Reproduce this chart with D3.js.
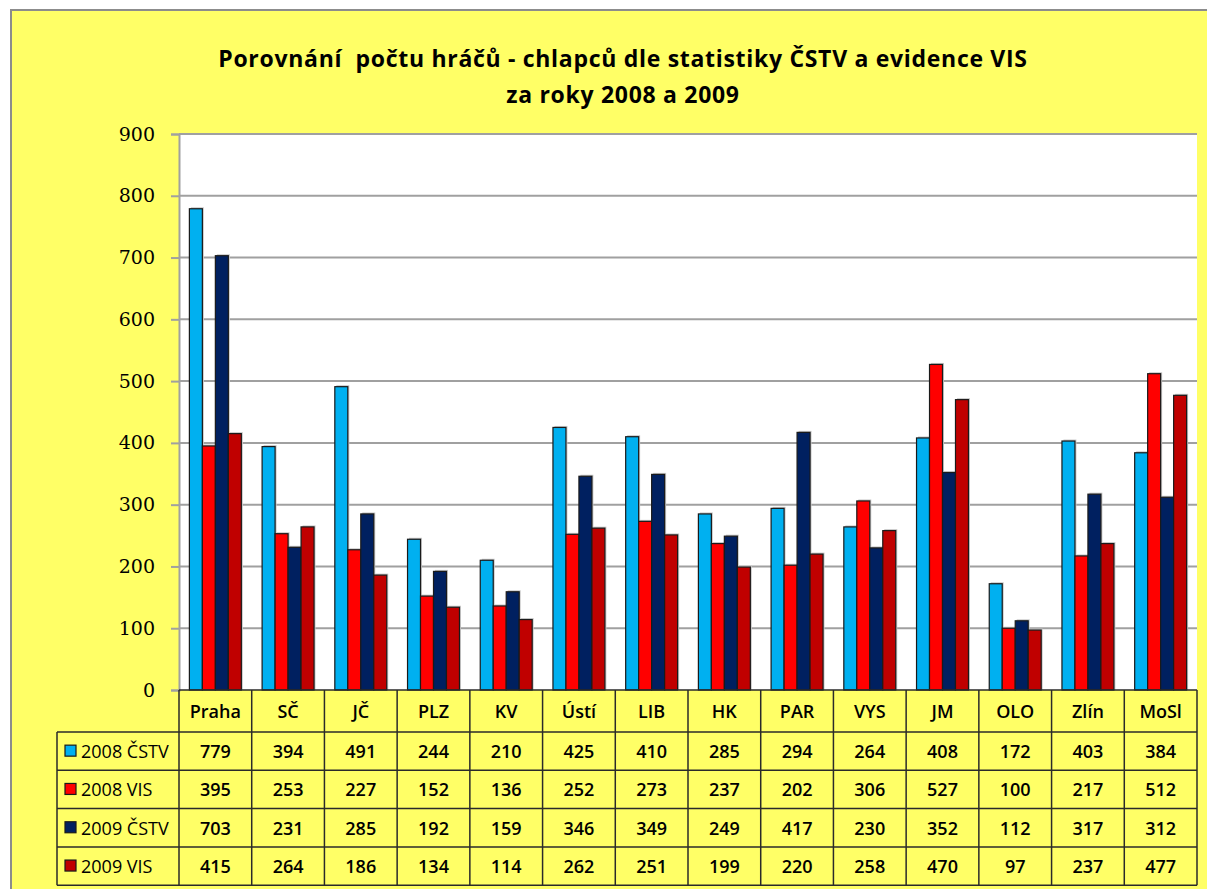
<!DOCTYPE html>
<html><head><meta charset="utf-8">
<script src="https://cdn.jsdelivr.net/npm/d3@7"></script>
<style>
html,body{margin:0;padding:0;background:#fff;}
svg{display:block;}
</style></head>
<body>
<svg id="chart" width="1207" height="889"></svg>
<script>
const categories = ["Praha","SČ","JČ","PLZ","KV","Ústí","LIB","HK","PAR","VYS","JM","OLO","Zlín","MoSl"];
const seriesNames = ["2008 ČSTV","2008 VIS","2009 ČSTV","2009 VIS"];
const cstv2008 = [779,394,491,244,210,425,410,285,294,264,408,172,403,384];
const vis2008  = [395,253,227,152,136,252,273,237,202,306,527,100,217,512];
const cstv2009 = [703,231,285,192,159,346,349,249,417,230,352,112,317,312];
const vis2009  = [415,264,186,134,114,262,251,199,220,258,470,97,237,477];
const seriesValues = [cstv2008, vis2008, cstv2009, vis2009];
const seriesColors = ["#00B0F0","#FF0000","#002060","#C00000"];
const yTicks = [0,100,200,300,400,500,600,700,800,900];
const titleLines = ["Porovnání  počtu hráčů - chlapců dle statistiky ČSTV a evidence VIS","za roky 2008 a 2009"];

const svg = d3.select("#chart");
const W = 1207, H = 889;
const plotL = 179, plotR = 1197, plotT = 134, plotB = 690;

// background
svg.append("rect").attr("x",0).attr("y",0).attr("width",W).attr("height",H).attr("fill","#ffffff");
svg.append("rect").attr("x",11).attr("y",10).attr("width",W).attr("height",H).attr("fill","#FFFF66")
  .attr("stroke","#8c8c8c").attr("stroke-width",2);

// title
svg.append("g").selectAll("text").data(titleLines).join("text")
  .attr("x",623).attr("y",(d,i)=>67+i*36)
  .attr("text-anchor","middle")
  .style("white-space","pre")
  .attr("letter-spacing",0.7)
  .attr("font-family","'Open Sans', Lato, sans-serif").attr("font-weight",700)
  .attr("font-size",23).attr("fill","#000").text(d=>d);

const x = d3.scaleBand().domain(categories).range([plotL,plotR]).paddingInner(0).paddingOuter(0);
const xs = d3.scaleBand().domain(seriesNames).range([0,x.bandwidth()]).paddingInner(0).paddingOuter(0.8);
const y = d3.scaleLinear().domain([0,900]).range([plotB,plotT]);

// plot area
svg.append("rect").attr("x",plotL).attr("y",plotT).attr("width",plotR-plotL).attr("height",plotB-plotT).attr("fill","#ffffff");

// gridlines
svg.append("g").selectAll("line").data(yTicks.filter(t=>t>0)).join("line")
  .attr("x1",plotL).attr("x2",plotR).attr("y1",d=>y(d)).attr("y2",d=>y(d))
  .attr("stroke","#a0a0a0").attr("stroke-width",2);

// y axis
const yAxis = d3.axisLeft(y).tickValues(yTicks).tickSize(8).tickPadding(16).tickFormat(d3.format("d"));
const ga = svg.append("g").attr("transform",`translate(${plotL},0)`).call(yAxis);
ga.select(".domain").attr("stroke","#a0a0a0").attr("stroke-width",2);
ga.selectAll(".tick line").attr("stroke","#a0a0a0").attr("stroke-width",2);
ga.selectAll(".tick text").attr("font-family","'DejaVu Serif', serif").attr("font-size",19).attr("fill","#000");

// bars
const groups = svg.append("g").selectAll("g").data(seriesNames).join("g");
groups.each(function(s,si){
  const g = d3.select(this);
  const vals = seriesValues[si];
  g.selectAll("rect.sh").data(vals).join("rect").attr("class","sh")
    .attr("x",(d,i)=>x(categories[i])+xs(s)+1.5)
    .attr("y",d=>y(d)-1.5)
    .attr("width",xs.bandwidth())
    .attr("height",d=>plotB-y(d)+1.5)
    .attr("fill","#c8c8c8");
  g.selectAll("rect.bar").data(vals).join("rect").attr("class","bar")
    .attr("x",(d,i)=>x(categories[i])+xs(s))
    .attr("y",d=>y(d))
    .attr("width",xs.bandwidth())
    .attr("height",d=>plotB-y(d))
    .attr("fill",seriesColors[si])
    .attr("stroke","#1a1a1a").attr("stroke-width",1.2);
});

// data table
const headerH = 42, rowH = 38.3;
const tableTop = plotB, legendL = 57;
const tb = svg.append("g");
const lineCol = "#2a2a2a";
const rowTop = i => tableTop + headerH + i*rowH;
const tableBottom = rowTop(seriesNames.length);
const colEdges = categories.map(c=>x(c)).concat([plotR]);
tb.selectAll("line.v").data(colEdges).join("line").attr("class","v")
  .attr("x1",d=>d).attr("x2",d=>d).attr("y1",tableTop).attr("y2",tableBottom)
  .attr("stroke",lineCol).attr("stroke-width",1.5);
tb.append("line").attr("x1",legendL).attr("x2",legendL).attr("y1",rowTop(0)).attr("y2",tableBottom)
  .attr("stroke",lineCol).attr("stroke-width",1.5);
tb.append("line").attr("x1",plotL).attr("x2",plotR).attr("y1",tableTop).attr("y2",tableTop).attr("stroke",lineCol).attr("stroke-width",1.5);
tb.selectAll("line.h").data(d3.range(seriesNames.length+1)).join("line").attr("class","h")
  .attr("x1",legendL).attr("x2",plotR).attr("y1",i=>rowTop(i)).attr("y2",i=>rowTop(i))
  .attr("stroke",lineCol).attr("stroke-width",1.5);

const tFont = "'Open Sans', Lato, sans-serif";
tb.selectAll("text.hd").data(categories).join("text").attr("class","hd")
  .attr("x",c=>x(c)+x.bandwidth()/2).attr("y",tableTop+headerH/2+7)
  .attr("text-anchor","middle").attr("font-family",tFont).attr("font-weight",600)
  .attr("font-size",18).attr("fill","#000").text(c=>c);
const lg = tb.selectAll("g.lg").data(seriesNames).join("g").attr("class","lg");
lg.append("rect").attr("x",legendL+8).attr("y",(d,i)=>rowTop(i)+rowH/2-6).attr("width",11).attr("height",11)
  .attr("fill",(d,i)=>seriesColors[i]).attr("stroke","#1a1a1a").attr("stroke-width",1.2);
lg.append("text").attr("x",legendL+24).attr("y",(d,i)=>rowTop(i)+rowH/2+7)
  .attr("font-family",tFont).attr("font-weight",400).attr("font-size",18).attr("fill","#000").text(d=>d);
seriesValues.forEach((vals,si)=>{
  tb.append("g").selectAll("text").data(vals).join("text")
    .attr("x",(d,i)=>x(categories[i])+x.bandwidth()/2).attr("y",rowTop(si)+rowH/2+7)
    .attr("text-anchor","middle").attr("font-family",tFont).attr("font-weight",600)
    .attr("font-size",18).attr("fill","#000").text(d=>d);
});
</script>
</body></html>
